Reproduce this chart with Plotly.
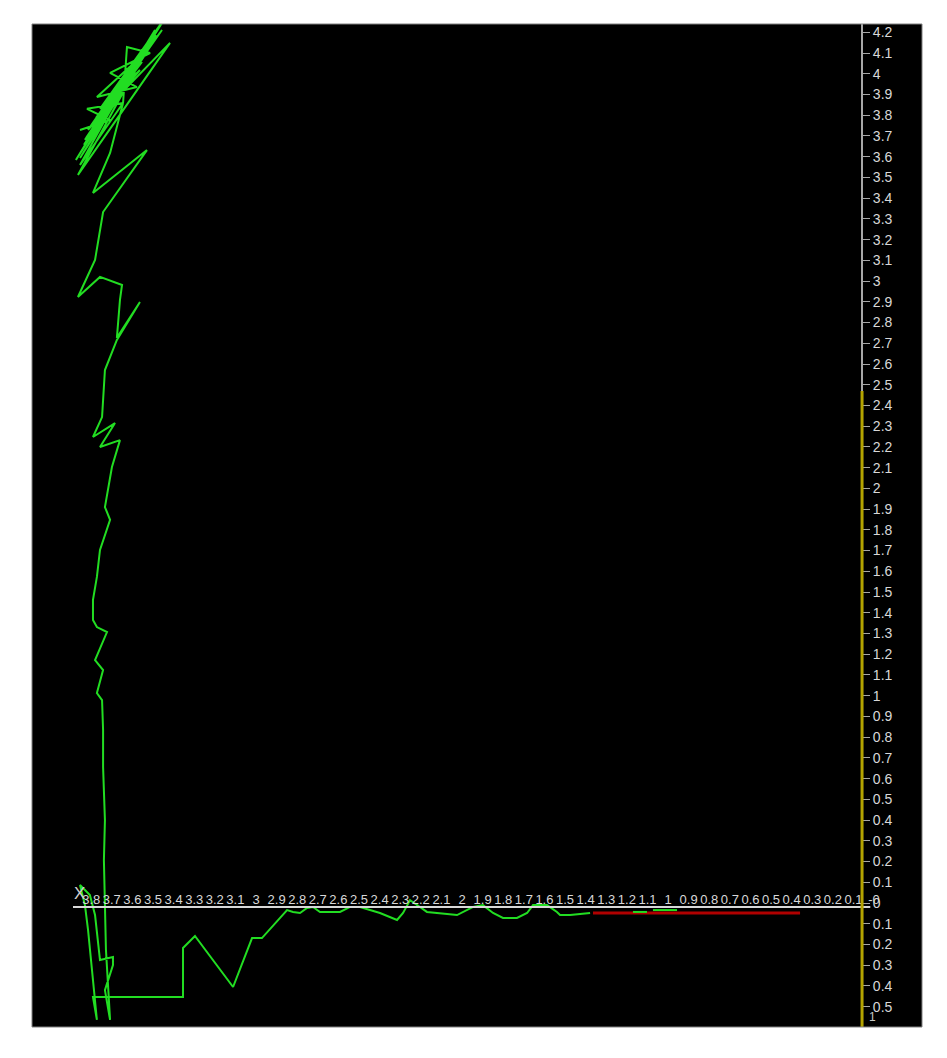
import plotly.graph_objects as go

# trajectory (x runs from ~3.8 on the left down to 0 at the right-hand axis)
traj_x = [
    1.320, 1.417, 1.466, 1.481, 1.529, 1.563, 1.597, 1.626, 1.675, 1.743,
    1.791, 1.840, 1.888, 1.966, 2.049, 2.112, 2.146, 2.194, 2.228, 2.257,
    2.340, 2.437, 2.485, 2.534, 2.631, 2.665, 2.694, 2.728, 2.762, 2.791,
    2.913, 2.961, 3.053, 3.238, 3.296, 3.296, 3.733, 3.714, 3.757, 3.772,
    3.796, 3.748, 3.723, 3.699, 3.636, 3.636, 3.675, 3.650, 3.670, 3.680,
    3.675, 3.684, 3.684, 3.689, 3.714, 3.684, 3.723, 3.665, 3.714, 3.733,
    3.733, 3.714, 3.699, 3.650, 3.675, 3.641, 3.602, 3.699, 3.626, 3.733,
    3.689, 3.675, 3.617, 3.505, 3.617, 3.602, 3.592, 3.699, 3.806, 3.723,
    3.684, 3.471, 3.733, 3.650, 3.587,
    3.796, 3.432, 3.816, 3.456, 3.772, 3.408, 3.806, 3.359, 3.723, 3.481,
    3.786, 3.383, 3.699, 3.505, 3.757, 3.447, 3.650, 3.553, 3.748, 3.417,
    3.738, 3.466, 3.777, 3.427, 3.718, 3.398, 3.767, 3.456, 3.680, 3.495,
    3.748, 3.437, 3.626, 3.529, 3.796, 3.476,
    3.714, 3.520, 3.650, 3.456, 3.568, 3.587, 3.762, 3.650, 3.796,
    None, 1.112, 1.044, None, 1.015, 0.898,
]
traj_y = [
    -0.048, -0.058, -0.058, -0.043, -0.010, -0.010, -0.010, -0.048, -0.072, -0.072,
    -0.048, -0.010, -0.019, -0.058, -0.048, -0.043, -0.019, 0.014, -0.048, -0.082,
    -0.048, -0.019, -0.019, -0.043, -0.043, -0.019, -0.024, -0.048, -0.043, -0.034,
    -0.169, -0.169, -0.405, -0.159, -0.217, -0.453, -0.453, -0.564, -0.130, -0.010,
    0.087, 0.039, -0.058, -0.275, -0.260, -0.299, -0.420, -0.564, -0.227, 0.207,
    0.400, 0.656, 0.835, 0.979, 1.013, 1.124, 1.172, 1.307, 1.331, 1.365,
    1.462, 1.573, 1.703, 1.848, 1.910, 2.103, 2.233, 2.200, 2.315, 2.248,
    2.344, 2.571, 2.716, 2.899, 2.726, 2.909, 2.981, 3.020, 2.923, 3.102,
    3.333, 3.632, 3.425, 3.618, 3.859,
    3.560, 4.211, 3.584, 4.139, 3.681, 4.235, 3.512, 4.149, 3.777, 4.091,
    3.632, 4.269, 3.831, 4.018, 3.729, 4.173, 3.874, 3.970, 3.681, 4.221,
    3.753, 4.124, 3.657, 4.187, 3.787, 4.211, 3.690, 4.153, 3.816, 4.057,
    3.739, 4.197, 3.898, 4.009, 3.594, 4.105,
    3.888, 3.936, 4.004, 4.100, 4.129, 3.859, 3.831, 3.777, 3.729,
    None, -0.043, -0.043, None, -0.034, -0.034,
]

# red reference segment along the bottom
red_x = [1.306, 0.301]
red_y = [-0.048, -0.048]

x_ticks = [round(3.8 - 0.1 * i, 1) for i in range(39)]
x_labels = [f"{v:g}" for v in x_ticks]
y_ticks = [round(4.2 - 0.1 * i, 1) for i in range(48)]
y_labels = [f"{abs(v):g}" for v in y_ticks]

x_range = [4.029, -0.291]
y_range = [-0.598, 4.240]
x_line_level = -0.019


def frac(v, r):
    return (v - r[0]) / (r[1] - r[0])


fig = go.Figure()
fig.add_trace(go.Scatter(x=red_x, y=red_y, mode="lines",
                         line=dict(color="#b00000", width=3), hoverinfo="skip"))
fig.add_trace(go.Scatter(x=traj_x, y=traj_y, mode="lines",
                         line=dict(color="#22dd22", width=2), hoverinfo="skip"))

fig.add_shape(type="line", xref="x", yref="y", x0=3.83, x1=-0.04,
              y0=x_line_level, y1=x_line_level, line=dict(color="#d8d8d8", width=2))
fig.add_shape(type="line", xref="x", yref="y", x0=0, x1=0, y0=y_range[0], y1=2.47,
              line=dict(color="#b4a400", width=3))
fig.add_shape(type="rect", xref="paper", yref="paper", x0=0, x1=1, y0=0, y1=1,
              line=dict(color="#808080", width=1))

fig.add_annotation(x=3.80, y=0.045, xref="x", yref="y", text="X", showarrow=False,
                   font=dict(size=17, color="#d0d0d0", family="Liberation Sans"))
fig.add_annotation(x=-0.05, y=-0.548, xref="x", yref="y", text="1", showarrow=False,
                   font=dict(size=12, color="#c8c8c8", family="Liberation Sans"))

fig.update_layout(
    width=930, height=1040,
    margin=dict(l=24, r=16, t=16, b=21),
    paper_bgcolor="white", plot_bgcolor="black",
    showlegend=False,
    font=dict(family="Liberation Sans", color="#d8d8d8"),
    xaxis=dict(
        range=x_range, showgrid=False, zeroline=False, showline=False,
        tickmode="array", tickvals=x_ticks, ticktext=x_labels, ticks="",
        side="top", anchor="free", position=frac(x_line_level, y_range),
        tickfont=dict(size=13, color="#d8d8d8"), ticklabelshift=-12,
    ),
    yaxis=dict(
        range=y_range, showgrid=False, zeroline=False,
        showline=True, linecolor="#a8a8a8", linewidth=2,
        tickmode="array", tickvals=y_ticks, ticktext=y_labels,
        ticks="outside", ticklen=7, tickcolor="#a8a8a8",
        side="right", anchor="free", position=frac(0, x_range),
        tickfont=dict(size=14, color="#d8d8d8"),
    ),
)

fig.write_html("out.html")
